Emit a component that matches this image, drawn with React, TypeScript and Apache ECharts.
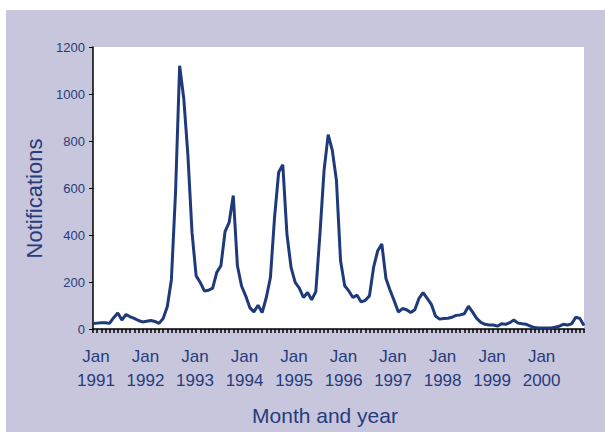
import React, { useEffect, useRef } from "react";
import * as echarts from "echarts";

const years = [1991, 1992, 1993, 1994, 1995, 1996, 1997, 1998, 1999, 2000];
const monthNames = ["Jan", "Feb", "Mar", "Apr", "May", "Jun", "Jul", "Aug", "Sep", "Oct", "Nov", "Dec"];
const categories: string[] = [];
years.forEach((y) => monthNames.forEach((m) => categories.push(`${m} ${y}`)));

const notifications = [
  23, 25, 27, 27, 24, 48, 68, 38, 62, 52, 45, 36,
  30, 33, 36, 32, 24, 45, 95, 210, 580, 1120, 980, 740,
  410, 226, 198, 162, 165, 174, 241, 269, 414, 454, 568, 269,
  183, 141, 91, 73, 101, 70, 134, 219, 475, 667, 699, 404,
  262, 198, 174, 134, 155, 124, 159, 404, 675, 827, 760, 632,
  290, 184, 162, 134, 144, 115, 122, 141, 262, 333, 362, 215,
  165, 120, 72, 87, 82, 70, 82, 130, 155, 130, 105, 55,
  42, 45, 46, 50, 58, 60, 65, 97, 72, 45, 28, 20,
  17, 17, 12, 22, 20, 27, 38, 25, 22, 20, 12, 6,
  4, 4, 4, 4, 8, 12, 20, 17, 22, 50, 45, 15,
];

const yTicks = { min: 0, max: 1200, interval: 200 };
const xTitle = "Month and year";
const yTitle = "Notifications";

const NAVY = "#263c7c";
const FONT = "'Liberation Sans', Arial, Helvetica, sans-serif";

export default function App() {
  const ref = useRef<HTMLDivElement>(null);
  useEffect(() => {
    if (!ref.current) return;
    const chart = echarts.init(ref.current, null, { renderer: "svg" });
    chart.setOption({
      animation: false,
      backgroundColor: "#c8c6dc",
      grid: {
        left: 87,
        top: 37,
        right: 21,
        bottom: 103,
        show: true,
        backgroundColor: "#ffffff",
        borderWidth: 0,
      },
      xAxis: {
        type: "category",
        data: categories,
        boundaryGap: false,
        axisLine: { lineStyle: { color: "#000", width: 1.5 } },
        axisTick: { interval: 0, length: 4, lineStyle: { color: "#000", width: 1.5 } },
        axisLabel: {
          interval: (idx: number) => idx % 12 === 0,
          hideOverlap: false,
          formatter: (v: string) => v.replace(" ", "\n"),
          color: NAVY,
          fontSize: 17,
          lineHeight: 24,
          margin: 15,
          fontFamily: FONT,
          padding: [0, 0, 0, 6],
        },
        splitLine: { show: false },
        name: xTitle,
        nameLocation: "middle",
        nameGap: 76,
        nameTextStyle: { color: NAVY, fontSize: 21, fontFamily: FONT, padding: [0, 27, 0, 0] },
      },
      yAxis: {
        type: "value",
        min: yTicks.min,
        max: yTicks.max,
        interval: yTicks.interval,
        axisLine: { show: true, lineStyle: { color: "#000", width: 1.5 } },
        axisTick: { show: true, length: 4, lineStyle: { color: "#000", width: 1 } },
        axisLabel: {
          color: NAVY,
          fontSize: 13,
          margin: 8,
          fontFamily: FONT,
          formatter: (v: number) => String(v),
        },
        splitLine: { show: false },
        name: yTitle,
        nameLocation: "middle",
        nameGap: 46,
        nameRotate: 90,
        nameTextStyle: { color: NAVY, fontSize: 22, fontFamily: FONT, padding: [0, 21, 0, 0] },
      },
      series: [
        {
          type: "line",
          data: notifications,
          showSymbol: false,
          symbol: "none",
          lineStyle: { color: "#1f3a7a", width: 3 },
        },
      ],
    });
    return () => chart.dispose();
  }, []);
  return (
    <div style={{ position: "fixed", left: 0, top: 0, width: 605, height: 432, background: "#ffffff" }}>
      <div ref={ref} style={{ position: "absolute", left: 6, top: 10, width: 599, height: 422 }} />
    </div>
  );
}
